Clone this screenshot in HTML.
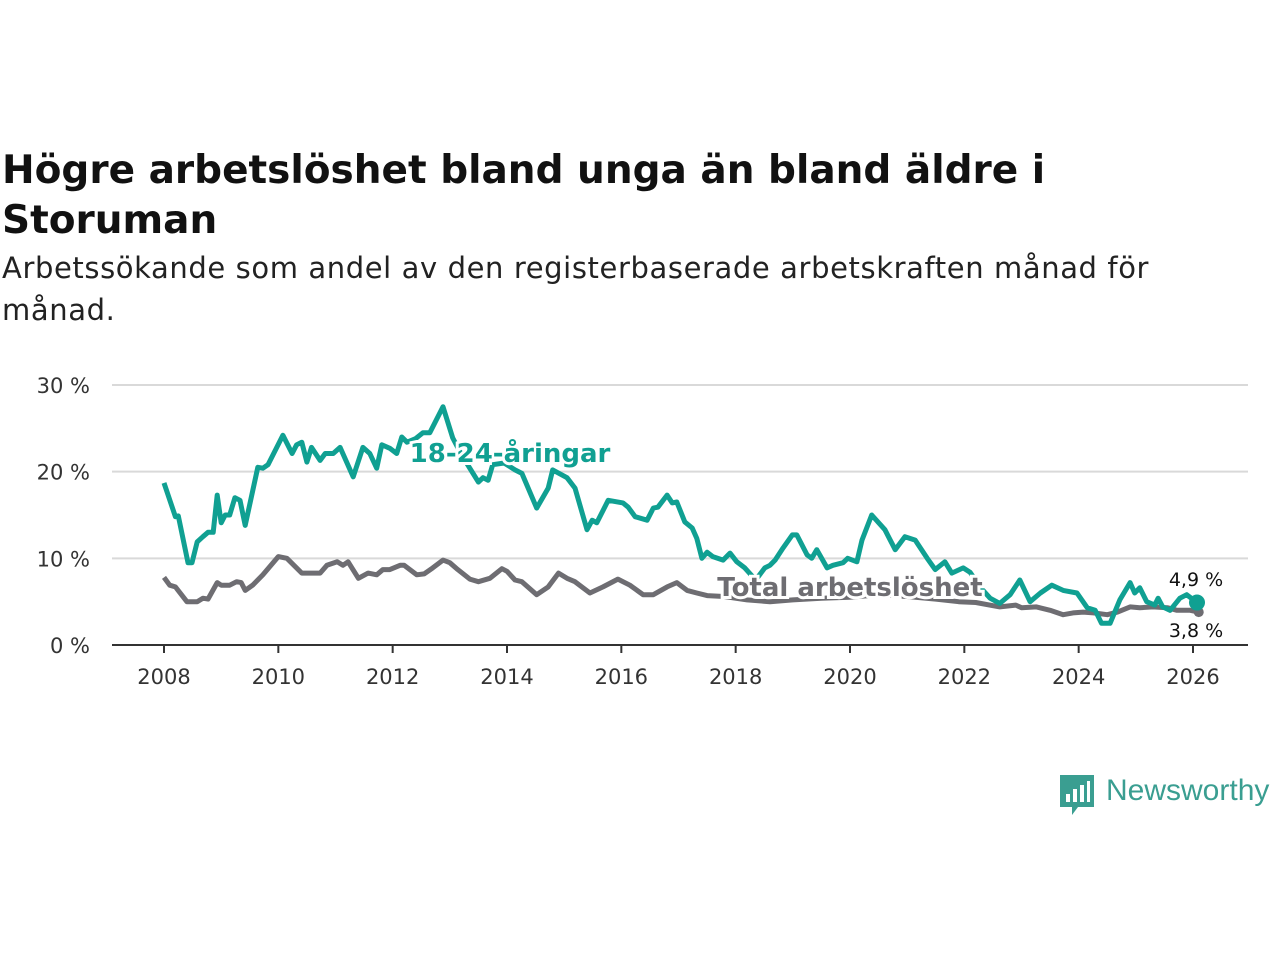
<!DOCTYPE html>
<html><head><meta charset="utf-8">
<style>
body{margin:0;background:#fff;width:1280px;height:960px;overflow:hidden;font-family:"DejaVu Sans",sans-serif;}
#title{position:absolute;left:2px;top:146px;font-size:39px;font-weight:bold;color:#111;line-height:50px;margin:0;width:1270px;white-space:nowrap;}
#sub{position:absolute;left:2px;top:247px;font-size:29px;letter-spacing:0.6px;color:#222;line-height:42px;margin:0;width:1270px;white-space:nowrap;}
svg{position:absolute;left:0;top:0;}
</style></head><body>
<h1 id="title">Högre arbetslöshet bland unga än bland äldre i<br>Storuman</h1>
<p id="sub">Arbetssökande som andel av den registerbaserade arbetskraften månad för<br>månad.</p>
<svg id="chart" width="1280" height="960"></svg>
<script>
const youthDates=[2008.0,2008.2,2008.25,2008.42,2008.49,2008.58,2008.68,2008.77,2008.86,2008.93,2009.0,2009.07,2009.15,2009.24,2009.33,2009.42,2009.64,2009.73,2009.82,2010.08,2010.24,2010.32,2010.41,2010.5,2010.58,2010.73,2010.82,2010.96,2011.08,2011.31,2011.48,2011.6,2011.72,2011.81,2011.95,2012.07,2012.16,2012.25,2012.4,2012.53,2012.65,2012.88,2013.05,2013.2,2013.35,2013.5,2013.58,2013.67,2013.75,2013.95,2014.14,2014.26,2014.52,2014.72,2014.8,2015.05,2015.19,2015.4,2015.49,2015.57,2015.77,2016.03,2016.12,2016.24,2016.45,2016.56,2016.64,2016.8,2016.89,2016.97,2017.11,2017.24,2017.32,2017.41,2017.5,2017.6,2017.78,2017.9,2018.02,2018.16,2018.35,2018.51,2018.6,2018.69,2018.83,2018.99,2019.07,2019.25,2019.33,2019.42,2019.6,2019.7,2019.88,2019.96,2020.12,2020.21,2020.38,2020.61,2020.79,2020.96,2021.14,2021.35,2021.49,2021.66,2021.78,2021.98,2022.1,2022.3,2022.45,2022.62,2022.8,2022.97,2023.15,2023.33,2023.53,2023.73,2023.97,2024.15,2024.29,2024.4,2024.55,2024.72,2024.9,2024.98,2025.07,2025.19,2025.33,2025.39,2025.47,2025.6,2025.77,2025.89,2026.07];
const youthValues=[18.7,14.8,14.9,9.5,9.5,11.9,12.5,13,13,17.3,14.1,15,15,17,16.7,13.8,20.5,20.4,20.8,24.2,22.1,23.1,23.4,21.1,22.8,21.3,22.1,22.1,22.8,19.4,22.8,22.1,20.4,23.1,22.7,22.1,24,23.4,23.8,24.5,24.5,27.5,23.9,22,20.4,18.8,19.3,19,20.8,21,20.2,19.8,15.8,18.1,20.2,19.3,18.1,13.3,14.4,14.1,16.7,16.4,15.9,14.8,14.4,15.8,15.9,17.3,16.4,16.5,14.2,13.5,12.3,10,10.7,10.2,9.8,10.6,9.6,8.9,7.5,8.9,9.2,9.8,11.2,12.7,12.7,10.4,10,11,8.9,9.2,9.5,10,9.6,12.1,15,13.3,11,12.5,12.1,10,8.7,9.6,8.3,8.9,8.4,6.5,5.4,4.8,5.8,7.5,5,6,6.9,6.3,6,4.3,4,2.5,2.5,5.2,7.2,6,6.6,5,4.6,5.4,4.4,4,5.4,5.8,4.9];
const totalDates=[2008.0,2008.1,2008.2,2008.4,2008.58,2008.68,2008.77,2008.93,2009.0,2009.15,2009.27,2009.35,2009.42,2009.55,2009.73,2010.0,2010.15,2010.41,2010.6,2010.73,2010.85,2011.03,2011.13,2011.22,2011.4,2011.57,2011.72,2011.83,2011.95,2012.13,2012.2,2012.42,2012.55,2012.7,2012.88,2013.0,2013.14,2013.35,2013.5,2013.7,2013.91,2014.0,2014.14,2014.26,2014.52,2014.72,2014.9,2015.05,2015.19,2015.45,2015.68,2015.94,2016.15,2016.38,2016.56,2016.8,2016.97,2017.15,2017.32,2017.5,2017.8,2018.2,2018.6,2019.0,2019.5,2020.0,2020.5,2021.0,2021.5,2021.9,2022.2,2022.62,2022.9,2023.0,2023.26,2023.5,2023.73,2023.9,2024.08,2024.26,2024.5,2024.68,2024.9,2025.07,2025.3,2025.55,2025.72,2025.95,2026.1];
const totalValues=[7.8,6.9,6.7,5,5,5.4,5.3,7.2,6.9,6.9,7.3,7.2,6.3,6.9,8.1,10.2,10,8.3,8.3,8.3,9.2,9.6,9.2,9.6,7.7,8.3,8.1,8.7,8.7,9.2,9.2,8.1,8.2,8.9,9.8,9.5,8.7,7.6,7.3,7.7,8.8,8.5,7.5,7.3,5.8,6.7,8.3,7.7,7.3,6,6.7,7.6,6.9,5.8,5.8,6.7,7.2,6.3,6,5.7,5.6,5.2,5,5.2,5.4,5.5,5.8,5.6,5.3,5.0,4.9,4.4,4.6,4.3,4.4,4.0,3.5,3.7,3.8,3.7,3.5,3.8,4.4,4.3,4.4,4.3,4.0,4.0,3.8];
const yTicks=[0,10,20,30];
const xTicks=[2008,2010,2012,2014,2016,2018,2020,2022,2024,2026];

const NS='http://www.w3.org/2000/svg';
const svg=document.getElementById('chart');
const X=d=>164+(d-2008)*(1193-164)/18;
const Y=v=>645-v*(645-385)/30;
const FF='DejaVu Sans, sans-serif';
function mk(t,a,p){const e=document.createElementNS(NS,t);for(const k in a)e.setAttribute(k,a[k]);(p||svg).appendChild(e);return e;}
yTicks.forEach(v=>{
  if(v>0){const g=mk('line',{x1:112,x2:1248,y1:Y(v),y2:Y(v),stroke:'#d9d9d9','stroke-width':2});
  
  }
  const t=mk('text',{x:90,y:Y(v)+8,'text-anchor':'end','font-size':21,fill:'#333','font-family':FF});
  t.textContent=v+' %';
  
  
});
const ax=mk('line',{x1:112,x2:1248,y1:645,y2:645,stroke:'#333','stroke-width':2});


xTicks.forEach(d=>{
  mk('line',{x1:X(d),x2:X(d),y1:645,y2:653,stroke:'#333','stroke-width':2});
  const t=mk('text',{x:X(d),y:684,'text-anchor':'middle','font-size':21,fill:'#333','font-family':FF});
  t.textContent=d;
  
  
});
function line(ds,vs,col,name){
  const p=mk('path',{d:ds.map((d,i)=>(i?'L':'M')+X(d).toFixed(1)+','+Y(vs[i]).toFixed(1)).join(''),fill:'none',stroke:col,'stroke-width':5,'stroke-linejoin':'round'});
  
  
}
line(totalDates,totalValues,'#6e6d72','total-line');
line(youthDates,youthValues,'#10a092','youth-line');
const tl=totalDates.length-1, yl=youthDates.length-1;
const d1=mk('circle',{cx:X(totalDates[tl]),cy:Y(totalValues[tl]),r:5,fill:'#6e6d72'});


const d2=mk('circle',{cx:X(youthDates[yl]),cy:Y(youthValues[yl]),r:8,fill:'#10a092'});


function lab(x,y,txt,col,size,bold,anchor,name){
  const t=mk('text',{x:x,y:y,'text-anchor':anchor,'font-size':size,'font-weight':bold?'bold':'normal',fill:col,stroke:'#fff','stroke-width':6,'paint-order':'stroke','font-family':FF});
  t.textContent=txt;
  
  
}
lab(510,462,'18-24-åringar','#10a092',26,true,'middle','youth-series-label');
lab(850,596,'Total arbetslöshet','#6e6d72',26,true,'middle','total-series-label');
lab(1196,586,'4,9 %','#111',19,false,'middle','youth-end-value');
lab(1196,637,'3,8 %','#111',19,false,'middle','total-end-value');
</script>
<div style="position:absolute;left:1060px;top:775px;height:42px;">
<svg width="34" height="42" style="position:absolute;left:0;top:0"><path d="M0 0h34v32h-16l-6 8v-8h-12z" fill="#3a9e91"/><rect x="6" y="19" width="4" height="8" fill="#fff"/><rect x="13" y="14" width="4" height="13" fill="#fff"/><rect x="20" y="10" width="4" height="17" fill="#fff"/><rect x="27" y="6" width="3" height="21" fill="#fff"/></svg>
<span style="position:absolute;left:46px;top:-1px;font-size:30px;color:#3a9e91;white-space:nowrap;font-family:'Liberation Sans',sans-serif;">Newsworthy</span>
</div>
</body></html>
